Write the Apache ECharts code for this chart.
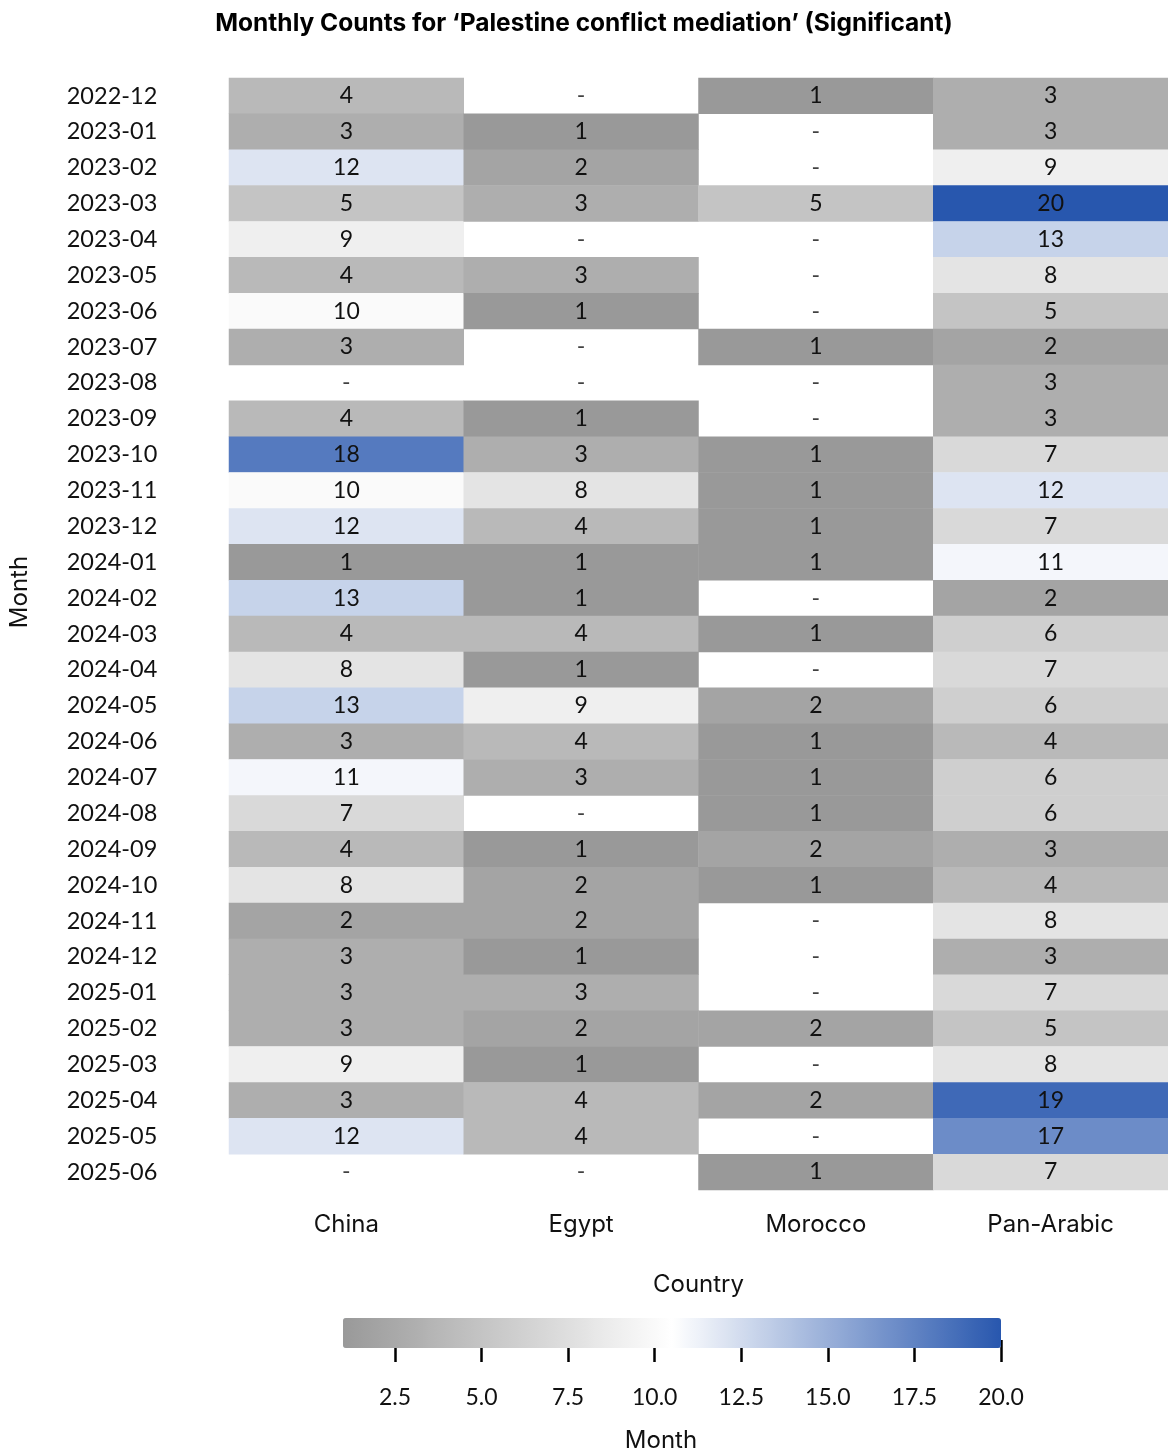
<!DOCTYPE html>
<html>
<head>
<meta charset="utf-8">
<script src="https://cdn.jsdelivr.net/npm/echarts@6/dist/echarts.min.js"></script>
<style>
html,body{margin:0;padding:0;background:#fff;}
#chart{width:1168px;height:1454px;}
</style>
</head>
<body>
<div id="chart"></div>
<script>
var months = ['2022-12','2023-01','2023-02','2023-03','2023-04','2023-05','2023-06','2023-07','2023-08','2023-09','2023-10','2023-11','2023-12','2024-01','2024-02','2024-03','2024-04','2024-05','2024-06','2024-07','2024-08','2024-09','2024-10','2024-11','2024-12','2025-01','2025-02','2025-03','2025-04','2025-05','2025-06'];
var countries = ['China','Egypt','Morocco','Pan-Arabic'];
var china     = [4,3,12,5,9,4,10,3,null,4,18,10,12,1,13,4,8,13,3,11,7,4,8,2,3,3,3,9,3,12,null];
var egypt     = [null,1,2,3,null,3,1,null,null,1,3,8,4,1,1,4,1,9,4,3,null,1,2,2,1,3,2,1,4,4,null];
var morocco   = [1,null,null,5,null,null,null,1,null,null,1,1,1,1,null,1,null,2,1,1,1,2,1,null,null,null,2,null,2,null,1];
var panArabic = [3,3,9,20,13,8,5,2,3,3,7,12,7,11,2,6,7,6,4,6,6,3,4,8,3,7,5,8,19,17,7];
var colorTicks = [2.5,5.0,7.5,10.0,12.5,15.0,17.5,20.0];

var cols = [china, egypt, morocco, panArabic];
var cellData = [], emptyData = [];
cols.forEach(function(arr, ci){
  arr.forEach(function(v, mi){
    if (v === null) emptyData.push([ci, mi, '-']);
    else cellData.push([ci, mi, v]);
  });
});

var NUMFONT = 'Lato';
var WORDFONT = 'Inter';
var chart = echarts.init(document.getElementById('chart'), null, {renderer:'canvas'});
chart.setOption({
  backgroundColor:'#ffffff',
  animation:false,
  textStyle:{fontFamily:NUMFONT},
  title:{
    text:'Monthly Counts for \u2018Palestine conflict mediation\u2019 (Significant)',
    left:'center', top:6,
    textStyle:{fontFamily:WORDFONT, fontSize:24.5, fontWeight:'bold', color:'#000'}
  },
  grid:[
    {left:229, right:0, top:78, height:1112},
    {left:343, width:658, top:1318, height:22}
  ],
  xAxis:[
    {type:'category', data:countries, gridIndex:0,
     axisLine:{show:false}, axisTick:{show:false}, splitLine:{show:false},
     axisLabel:{fontFamily:WORDFONT, fontSize:24, color:'#111', margin:23},
     name:'Country', nameLocation:'middle', nameGap:83,
     nameTextStyle:{fontFamily:WORDFONT, fontSize:24, color:'#111'}},
    {type:'value', gridIndex:1, min:1, max:20,
     axisLine:{show:false}, splitLine:{show:false},
     axisTick:{show:true, length:22, customValues:colorTicks, lineStyle:{color:'#000', width:2.5}},
     axisLabel:{show:true, customValues:colorTicks, margin:46, fontFamily:NUMFONT, fontSize:23, color:'#111',
       formatter:function(v){return Number(v).toFixed(1);}}}
  ],
  yAxis:[
    {type:'category', data:months, inverse:true, gridIndex:0,
     axisLine:{show:false}, axisTick:{show:false}, splitLine:{show:false},
     axisLabel:{fontFamily:NUMFONT, fontSize:23.5, color:'#111', align:'center', margin:117}},
    {type:'value', gridIndex:1, min:0, max:1, show:false}
  ],
  visualMap:{
    type:'continuous', min:1, max:20, seriesIndex:0,
    orient:'horizontal', left:343, top:1318, itemWidth:30, itemHeight:658,
    calculable:false, text:null, padding:0, showLabel:false,
    inRange:{color:['#999999','#ffffff','#2857ae']}
  },
  graphic:[
    {type:'text', x:20, y:592, rotation:Math.PI/2,
     style:{text:'Month', fontFamily:WORDFONT, fontSize:24, fill:'#111', align:'center', verticalAlign:'middle'}},
    {type:'text', x:661, y:1441,
     style:{text:'Month', fontFamily:WORDFONT, fontSize:24, fill:'#111', align:'center', verticalAlign:'middle'}}
  ],
  series:[
    {type:'heatmap', xAxisIndex:0, yAxisIndex:0, data:cellData,
     label:{show:true, fontFamily:NUMFONT, fontSize:23, color:'#111',
       formatter:function(p){return String(p.value[2]);}},
     itemStyle:{borderWidth:0},
     emphasis:{disabled:true}},
    {type:'scatter', xAxisIndex:0, yAxisIndex:0, data:emptyData, symbolSize:0,
     label:{show:true, position:'inside', fontFamily:NUMFONT, fontSize:23, color:'#111',
       formatter:function(p){return '-';}},
     silent:true},
    {type:'scatter', xAxisIndex:1, yAxisIndex:1, data:[], silent:true}
  ]
});
</script>
</body>
</html>
